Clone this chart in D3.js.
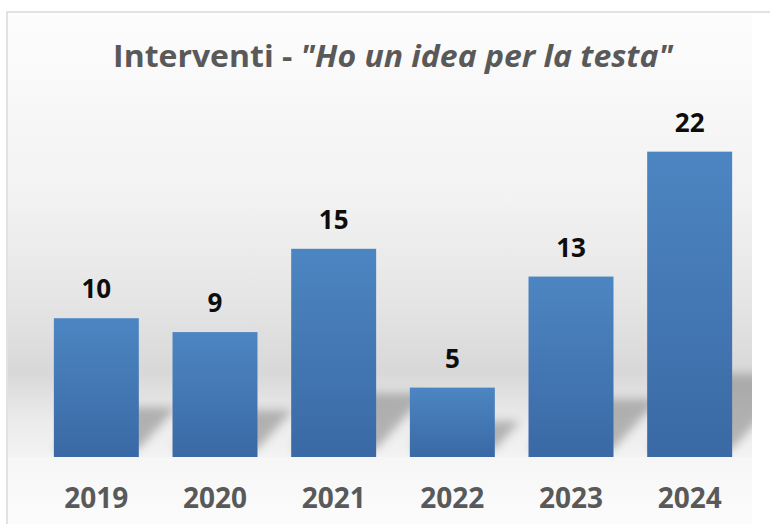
<!DOCTYPE html>
<html>
<head>
<meta charset="utf-8">
<script src="https://cdn.jsdelivr.net/npm/d3@7"></script>
<style>
    body { margin: 0; background: #fff; }
    .chart_box { width: 770px; height: 524px; }
</style>
</head>
<body>
<div class="chart_box"></div>
<script>
//<data>--------------------------------------//
var years = ["2019", "2020", "2021", "2022", "2023", "2024"];
var interventi = [10, 9, 15, 5, 13, 22];
var titlePlain = "Interventi - ";
var titleItalic = "\"Ho un idea per la testa\"";

//<size>--------------------------------------//
var getW = 770, getH = 524;
var plot = { left: 8, top: 13, right: 752, bottom: 457 };
var fontMain = "'Open Sans', 'Noto Sans', sans-serif";

var data = years.map(function (d, i) { return { year: d, value: interventi[i] }; });

var svg = d3.select(".chart_box").append("svg")
    .attr("width", getW).attr("height", getH);

var defs = svg.append("defs");

//<gradients>--------------------------------//
var bgGrad = defs.append("linearGradient").attr("id", "bgGrad")
    .attr("gradientUnits", "userSpaceOnUse")
    .attr("x1", 0).attr("y1", plot.top).attr("x2", 0).attr("y2", plot.bottom);
[[0, "#fdfdfd"], [0.42, "#f2f2f2"], [0.646, "#e5e5e5"], [0.81, "#d8d8d8"], [0.917, "#ebebeb"], [1, "#f3f3f3"]]
    .forEach(function (s) { bgGrad.append("stop").attr("offset", s[0]).attr("stop-color", s[1]); });

var floorGrad = defs.append("linearGradient").attr("id", "floorGrad")
    .attr("x1", 0).attr("y1", 0).attr("x2", 0).attr("y2", 1);
floorGrad.append("stop").attr("offset", 0).attr("stop-color", "#f6f6f6");
floorGrad.append("stop").attr("offset", 1).attr("stop-color", "#fcfcfc");

var barGrad = defs.append("linearGradient").attr("id", "barGrad")
    .attr("x1", 0).attr("y1", 0).attr("x2", 0).attr("y2", 1);
barGrad.append("stop").attr("offset", 0).attr("stop-color", "#4c86c2");
barGrad.append("stop").attr("offset", 1).attr("stop-color", "#3a69a5");

var blur = defs.append("filter").attr("id", "shadowBlur")
    .attr("x", "-50%").attr("y", "-50%").attr("width", "200%").attr("height", "200%");
blur.append("feGaussianBlur").attr("stdDeviation", 5);

defs.append("clipPath").attr("id", "plotClip")
    .append("rect").attr("x", plot.left).attr("y", plot.top)
    .attr("width", plot.right - plot.left).attr("height", plot.bottom - plot.top);

//<background>-------------------------------//
svg.append("rect").attr("x", plot.left).attr("y", plot.top)
    .attr("width", plot.right - plot.left).attr("height", plot.bottom - plot.top)
    .attr("fill", "url(#bgGrad)");
svg.append("rect").attr("x", plot.left).attr("y", plot.bottom)
    .attr("width", plot.right - plot.left).attr("height", getH - plot.bottom)
    .attr("fill", "url(#floorGrad)");
// frame runs off the right/bottom edge
svg.append("rect").attr("x", 7).attr("y", 12).attr("width", 800).attr("height", 600)
    .attr("fill", "none").attr("stroke", "#d9d9d9").attr("stroke-width", 1.5);

//<scales>-----------------------------------//
var x = d3.scaleBand().domain(years).range([37, 749])
    .paddingInner(0.284).paddingOuter(0.142);
var y = d3.scaleLinear().domain([0, 25]).range([plot.bottom, 110]);

//<shadows>----------------------------------//
var shadowG = svg.append("g").attr("clip-path", "url(#plotClip)");
shadowG.selectAll("polygon").data(data).enter().append("polygon")
    .attr("points", function (d) {
        var x0 = x(d.year), x1 = x0 + x.bandwidth();
        var base = y(0) - 8;
        var sh = (y(0) - y(d.value)) * 0.2 + 14;
        var sx = sh * 0.9;
        return [[x0, base], [x1, base], [x1 + sx, base - sh], [x0 + sx, base - sh]].join(" ");
    })
    .attr("fill", "#8a8a8a").attr("opacity", 0.6)
    .attr("filter", "url(#shadowBlur)");

//<bars>-------------------------------------//
svg.append("g").selectAll("rect").data(data).enter().append("rect")
    .attr("x", function (d) { return x(d.year); })
    .attr("y", function (d) { return y(d.value); })
    .attr("width", x.bandwidth())
    .attr("height", function (d) { return y(0) - y(d.value); })
    .attr("fill", "url(#barGrad)");

//<value labels>-----------------------------//
svg.append("g").selectAll("text").data(data).enter().append("text")
    .attr("x", function (d) { return x(d.year) + x.bandwidth() / 2; })
    .attr("y", function (d) { return y(d.value) - 20; })
    .attr("text-anchor", "middle")
    .style("font-family", fontMain).style("font-weight", "bold").style("font-size", "26px")
    .attr("fill", "#0d0d0d")
    .text(function (d) { return d.value; });

//<x axis>-----------------------------------//
var xAxis = svg.append("g").attr("transform", "translate(0," + plot.bottom + ")")
    .call(d3.axisBottom(x).tickSize(0).tickPadding(0));
xAxis.select(".domain").remove();
xAxis.selectAll("text")
    .attr("y", 51).attr("dy", null)
    .style("font-family", fontMain).style("font-weight", "bold").style("font-size", "28px")
    .attr("fill", "#595959");

//<title>------------------------------------//
var titleG = svg.append("g");
var title = titleG.append("text").attr("x", 0).attr("y", 0)
    .attr("text-anchor", "middle")
    .style("font-family", fontMain).style("font-weight", "bold").style("font-size", "31px")
    .attr("fill", "#595959");
title.append("tspan").text(titlePlain);
title.append("tspan").style("font-style", "italic").text(titleItalic);
var tw = title.node().getBBox().width;
titleG.attr("transform", "translate(393,67) scale(" + (561 / tw) + ",1)");
</script>
</body>
</html>
